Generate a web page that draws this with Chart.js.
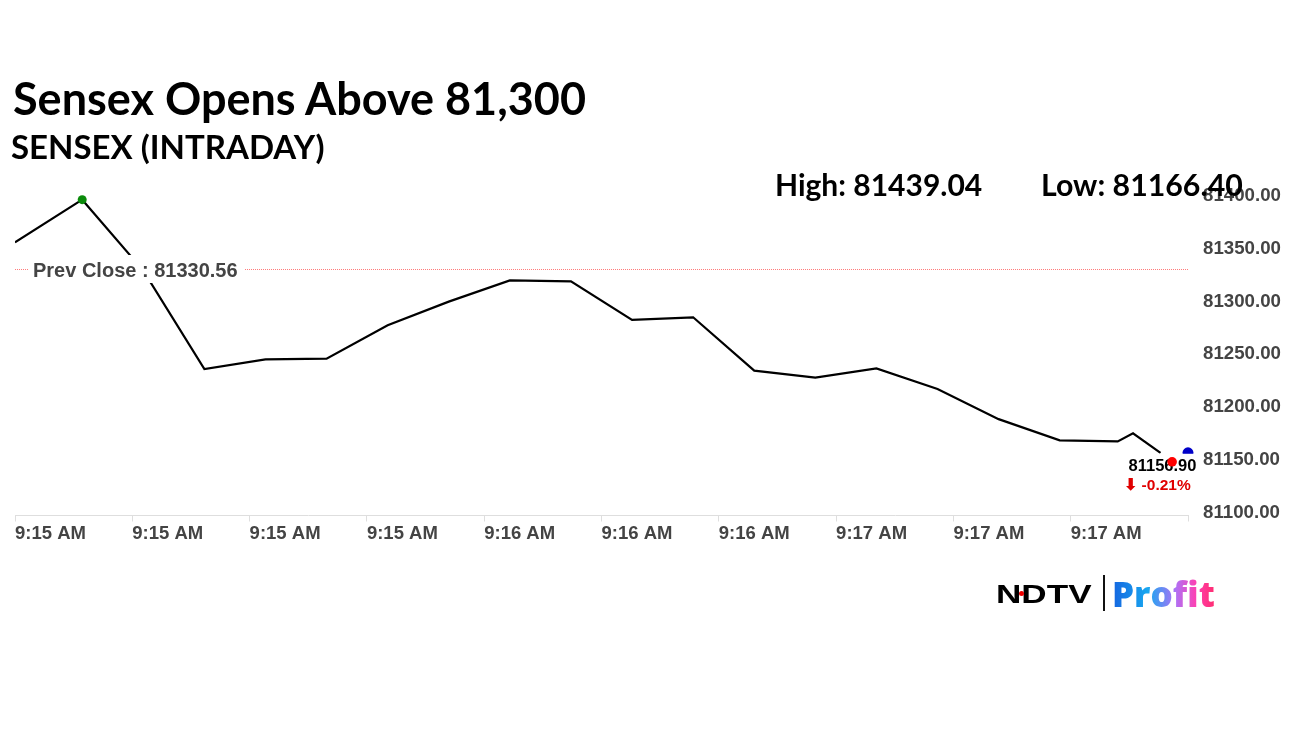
<!DOCTYPE html>
<html>
<head>
<meta charset="utf-8">
<script src="https://cdn.jsdelivr.net/npm/chart.js@4.4.1/dist/chart.umd.min.js"></script>
<style>
  html, body { margin: 0; padding: 0; background: #fff; overflow: hidden; }
  #wrap { position: relative; width: 1296px; height: 729px; }
  #sensex { position: absolute; left: 0; top: 0; }
  .txt { position: absolute; white-space: nowrap; font-family: Lato, "Open Sans", sans-serif; font-weight: 700; color: #000; line-height: 1; }
  #title { left: 13px; top: 76px; font-size: 45px; }
  #subtitle { left: 11px; top: 130px; font-size: 33px; }
  #high { left: 775px; top: 169px; font-size: 30px; }
  #low { left: 1041px; top: 169px; font-size: 30.3px; }
  #ndtv { left: 996px; top: 581px; font-family: "Liberation Sans", Arial, sans-serif; font-weight: 900; font-size: 26px; transform: scaleX(1.35); transform-origin: left top; }
  #ndtvdot { position: absolute; left: 1019px; top: 591px; width: 5px; height: 5px; border-radius: 50%; background: #e00; }
  #bar { position: absolute; left: 1103px; top: 575px; width: 2px; height: 36px; background: #111; }
  #profit { left: 1112px; top: 576px; font-family: "Open Sans", sans-serif; font-weight: 800; font-size: 35px;
    background: linear-gradient(90deg, #1565e0 0%, #18a8f0 35%, #b070f5 62%, #ff3fb0 82%, #ff2d6f 100%);
    -webkit-background-clip: text; background-clip: text; color: transparent; }
</style>
</head>
<body>
<div id="wrap">
  <canvas id="sensex" width="1296" height="729"></canvas>
  <div class="txt" id="title">Sensex Opens Above 81,300</div>
  <div class="txt" id="subtitle">SENSEX (INTRADAY)</div>
  <div class="txt" id="high">High: 81439.04</div>
  <div class="txt" id="low">Low: 81166.40</div>
  <div class="txt" id="ndtv">NDTV</div>
  <div id="ndtvdot"></div>
  <div id="bar"></div>
  <div class="txt" id="profit">Profit</div>
</div>
<script>
// seconds after 9:15:00 and index level
const seconds = [0, 11, 21, 31, 41, 51, 61, 71, 81, 91, 101, 111, 121, 131, 141, 151, 161, 171, 180.5, 183, 187.5];
const prices = [81355.8, 81396.2, 81329.1, 81236.0, 81245.2, 81245.9, 81277.4, 81299.8, 81319.9, 81319.0,
  81282.5, 81285.0, 81234.5, 81227.9, 81236.7, 81217.2, 81188.7, 81168.6, 81167.7, 81175.3, 81156.9];

const tickSeconds = [0, 19.2, 38.4, 57.6, 76.8, 96, 115.2, 134.4, 153.6, 172.8, 192];
const tickLabels = ['9:15 AM', '9:15 AM', '9:15 AM', '9:15 AM', '9:16 AM', '9:16 AM', '9:16 AM', '9:17 AM', '9:17 AM', '9:17 AM', ''];

const prevClose = 81330.56;
const lastPrice = 81156.90;
const changePct = -0.21;

// extra markers seen at the end of the line
const liveDot = [189.4, 81148.4];
const edgeDot = [192, 81156.9];

const linePoints = seconds.map((s, i) => ({ x: s, y: prices[i] }));
const hiIdx = prices.indexOf(Math.max(...prices));

const overlays = {
    id: 'overlays',
    afterDatasetDraw(chart, args) {
        const ctx = chart.ctx;
        const area = chart.chartArea;
        const xs = chart.scales.x;
        const ys = chart.scales.y;
        if (args.index === 0) {
            // previous close dotted line + label
            const py = Math.round(ys.getPixelForValue(prevClose));
            ctx.save();
            ctx.fillStyle = '#ff7a7a';
            for (let x = area.left; x < area.right; x += 2) {
                ctx.fillRect(x, py, 1, 1);
            }
            ctx.font = 'bold 20px "Liberation Sans", Arial, sans-serif';
            const txt = 'Prev Close : ' + prevClose.toFixed(2);
            const w = ctx.measureText(txt).width;
            ctx.fillStyle = '#fff';
            ctx.fillRect(area.left + 13, py - 14, w + 12, 28);
            ctx.fillStyle = '#444';
            ctx.textBaseline = 'middle';
            ctx.textAlign = 'left';
            ctx.fillText(txt, area.left + 18, py + 2);
            ctx.restore();
        }
        if (args.index === 1) {
            // last price label
            const lx = xs.getPixelForValue(seconds[seconds.length - 1]);
            const ly = ys.getPixelForValue(lastPrice);
            ctx.save();
            ctx.fillStyle = '#fff';
            ctx.fillRect(lx - 38, ly + 1, 80, 42);
            ctx.textAlign = 'center';
            ctx.textBaseline = 'middle';
            ctx.font = 'bold 16.5px "Liberation Sans", Arial, sans-serif';
            ctx.fillStyle = '#000';
            ctx.fillText(lastPrice.toFixed(2), lx + 2, ly + 14);
            ctx.font = 'bold 15.5px "Liberation Sans", Arial, sans-serif';
            ctx.fillStyle = '#e00000';
            ctx.fillText('\u2B07 ' + changePct.toFixed(2) + '%', lx - 3, ly + 33);
            ctx.restore();
        }
    }
};

new Chart('sensex', {
    type: 'line',
    data: {
        datasets: [{
            data: linePoints,
            borderColor: '#000',
            borderWidth: 2.2,
            pointRadius: 0,
            tension: 0,
            fill: false,
            order: 4
        }, {
            data: [{ x: edgeDot[0], y: edgeDot[1] }],
            pointRadius: 5.5,
            pointBackgroundColor: '#0000c8',
            pointBorderWidth: 0,
            showLine: false,
            clip: false,
            order: 3
        }, {
            data: [linePoints[hiIdx]],
            pointRadius: 4.5,
            pointBackgroundColor: '#0a8a0a',
            pointBorderWidth: 0,
            showLine: false,
            order: 2
        }, {
            data: [{ x: liveDot[0], y: liveDot[1] }],
            pointRadius: 4.8,
            pointBackgroundColor: '#ff0000',
            pointBorderWidth: 0,
            showLine: false,
            clip: false,
            order: 1
        }]
    },
    options: {
        responsive: false,
        animation: false,
        devicePixelRatio: 1,
        layout: { padding: { left: 15, top: 174.5, right: 0, bottom: 0 } },
        plugins: { legend: { display: false }, tooltip: { enabled: false } },
        scales: {
            x: {
                type: 'linear',
                min: 0,
                max: 192,
                afterBuildTicks: (s) => { s.ticks = tickSeconds.map(v => ({ value: v })); },
                afterFit: (s) => { s.height = 213.5; },
                ticks: {
                    autoSkip: false,
                    maxRotation: 0,
                    align: 'start',
                    padding: 1,
                    color: '#444',
                    font: { family: '"Liberation Sans", Arial, sans-serif', size: 18.5, weight: 'bold' },
                    callback: (v, i) => tickLabels[i]
                },
                grid: { drawOnChartArea: false, drawTicks: true, tickLength: 6, color: '#dedede' },
                border: { display: true, color: '#dedede' }
            },
            y: {
                position: 'right',
                min: 81097.6,
                max: 81420,
                afterFit: (s) => { s.width = 108; },
                ticks: {
                    stepSize: 50,
                    includeBounds: false,
                    padding: 15,
                    color: '#444',
                    font: { family: '"Liberation Sans", Arial, sans-serif', size: 18.7, weight: 'bold' },
                    callback: (v) => Number(v).toFixed(2)
                },
                grid: { display: false, drawTicks: false },
                border: { display: false }
            }
        }
    },
    plugins: [overlays]
});
</script>
</body>
</html>
